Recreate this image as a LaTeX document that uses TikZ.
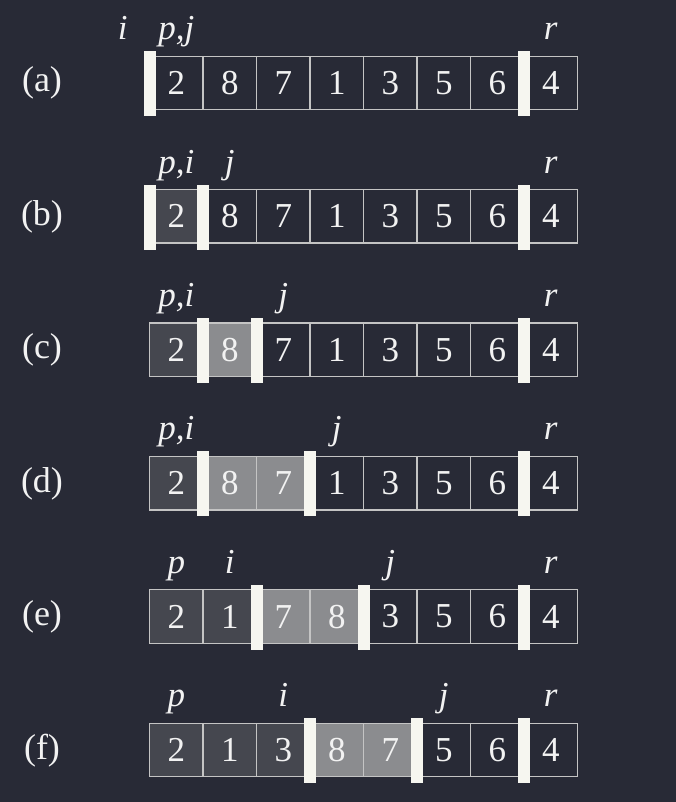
\documentclass[tikz,border=0pt]{standalone}
\usepackage{fontspec}
\setmainfont{Liberation Serif}
\definecolor{bg}{HTML}{282A36}
\definecolor{darkcell}{HTML}{45474F}
\definecolor{lightcell}{HTML}{8B8C8F}
\definecolor{edge}{HTML}{C4C4C4}
\definecolor{barc}{HTML}{F6F6F0}
\definecolor{ink}{HTML}{F2F2F2}
\tikzset{
  cell/.style={draw=edge, line width=1.3pt, minimum width=53.5pt, minimum height=53.5pt,
    inner sep=0pt, text=ink, font=\fontsize{35}{40}\selectfont},
  celln/.style={cell, fill=bg},
  celld/.style={cell, fill=darkcell},
  celll/.style={cell, fill=lightcell},
  divider/.style={fill=barc, draw=none, minimum width=12pt, minimum height=65pt, inner sep=0pt},
  idx/.style={text=ink, font=\fontsize{35}{40}\selectfont\itshape, anchor=base, inner sep=0pt},
  rowlab/.style={text=ink, font=\fontsize{36}{40}\selectfont, inner sep=0pt},
}
\begin{document}
\begin{tikzpicture}[x=1pt, y=-1pt]
\fill[bg] (0,0) rectangle (676,802);
\useasboundingbox (0,0) rectangle (676,802);
\foreach \k/\lab/\vals/\bars/\tops in {
  0/a/{2/n,8/n,7/n,1/n,3/n,5/n,6/n,4/n}/{0,7}/{-1/i,0/{p,j},7/r},
  1/b/{2/d,8/n,7/n,1/n,3/n,5/n,6/n,4/n}/{0,1,7}/{0/{p,i},1/j,7/r},
  2/c/{2/d,8/l,7/n,1/n,3/n,5/n,6/n,4/n}/{1,2,7}/{0/{p,i},2/j,7/r},
  3/d/{2/d,8/l,7/l,1/n,3/n,5/n,6/n,4/n}/{1,3,7}/{0/{p,i},3/j,7/r},
  4/e/{2/d,1/d,7/l,8/l,3/n,5/n,6/n,4/n}/{2,4,7}/{0/p,1/i,4/j,7/r},
  5/f/{2/d,1/d,3/d,8/l,7/l,5/n,6/n,4/n}/{3,5,7}/{0/p,2/i,5/j,7/r}}
{
  \pgfmathsetmacro\T{56.2+133.4*\k}
  \node[rowlab] (lab\k) at (42,\T+27) {(\lab)};
  \foreach \v/\s [count=\c from 0] in \vals {
    \node[cell\s] (c\k-\c) at ({149.5+53.5*\c+26.75},{\T+26.75}) {\v};
  }
  \foreach \b in \bars {
    \node[divider] (b\k-\b) at ({149.5+53.5*\b},{\T+27.5}) {};
  }
  \foreach \x/\t in \tops {
    \node[idx] (t\k-\x) at ({149.5+53.5*\x+26.75},{\T-16.5}) {\t};
  }
}
\end{tikzpicture}
\end{document}
